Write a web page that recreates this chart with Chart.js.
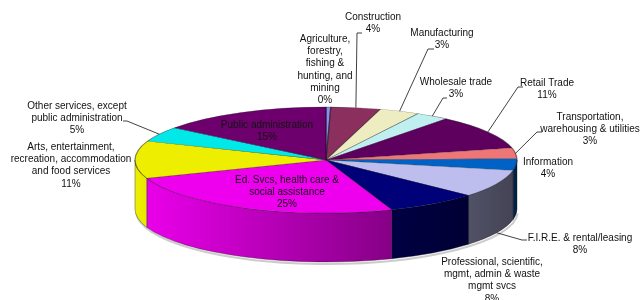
<!DOCTYPE html>
<html>
<head>
<meta charset="utf-8">
<script src="https://cdn.jsdelivr.net/npm/chart.js@4.4.1/dist/chart.umd.min.js"></script>
<style>
  html, body { margin: 0; padding: 0; background: #fff; }
  #wrap { width: 642px; height: 300px; }
</style>
</head>
<body>
<div id="wrap"><canvas id="pieChart" width="642" height="300"></canvas></div>
<script>
// Industry shares (%), clockwise from 12 o'clock
const categories = [
  ['Agriculture,', 'forestry,', 'fishing &', 'hunting, and', 'mining'],
  ['Construction'],
  ['Manufacturing'],
  ['Wholesale trade'],
  ['Retail Trade'],
  ['Transportation,', 'warehousing & utilities'],
  ['Information'],
  ['F.I.R.E. & rental/leasing'],
  ['Professional, scientific,', 'mgmt, admin & waste', 'mgmt svcs'],
  ['Ed. Svcs, health care &', 'social assistance'],
  ['Arts, entertainment,', 'recreation, accommodation', 'and food services'],
  ['Other services, except', 'public administration'],
  ['Public administration']
];
const shares = [0.4, 4.2, 3.4, 2.8, 10.6, 3.2, 3.6, 8.4, 7.8, 25.0, 11.4, 4.6, 14.6];
const sliceColors = ['#8C8CEC', '#8B2F5E', '#EEEDC2', '#BFEFEF', '#5E005E', '#EE7676', '#0062C4',
                     '#BDBDEE', '#000078', '#EE00EE', '#EEEE00', '#00E8E8', '#6E006E'];

// 3D look of the pie
const PIE = { cx: 326, cy: 160, rx: 191, ry: 53, depth: 49 };

// where each text label sits (center of first line) and its leader line, if any
const labelLayout = [
  { x: 325, y: 39 },
  { x: 373, y: 17, elbow: [357, 33], end: [362, 33], rim: 'top' },
  { x: 442, y: 33, elbow: [428, 49], end: [434, 49], rim: 'top' },
  { x: 456, y: 82, elbow: [443, 98], end: [447, 98], rim: 'top' },
  { x: 547, y: 83, elbow: [518, 87], end: [523, 87], rim: 'top' },
  { x: 590, y: 117, elbow: [537, 132], end: [542, 132], rim: 'top' },
  { x: 548, y: 162 },
  { x: 580, y: 238, elbow: [522, 240], end: [527, 240], rim: 'bottom' },
  { x: 492, y: 262 },
  { x: 287, y: 180 },
  { x: 71, y: 147 },
  { x: 77, y: 106, elbow: [127, 121], end: [123, 121], rim: 'top' },
  { x: 267, y: 125 }
];

function shade(hex, f) {
  const n = parseInt(hex.slice(1), 16);
  const r = Math.round(((n >> 16) & 255) * f);
  const g = Math.round(((n >> 8) & 255) * f);
  const b = Math.round((n & 255) * f);
  return `rgb(${r},${g},${b})`;
}

const pie3d = {
  id: 'pie3d',
  beforeDatasetsDraw(chart) {
    const ctx = chart.ctx;
    const arcs = chart.getDatasetMeta(0).data;
    const { cx, cy, rx, ry, depth } = PIE;

    // faint shadow under the front edge
    ctx.save();
    ctx.beginPath();
    ctx.ellipse(cx + 1, cy + depth + 2, rx, ry, 0, 0.05, Math.PI - 0.05);
    ctx.lineWidth = 2;
    ctx.strokeStyle = 'rgba(0,0,0,0.2)';
    ctx.stroke();
    ctx.restore();

    // side walls for the front half
    arcs.forEach((arc, i) => {
      const a = Math.max(arc.startAngle, 0);
      const b = Math.min(arc.endAngle, Math.PI);
      if (b <= a) return;
      const grad = ctx.createLinearGradient(cx - rx, 0, cx + rx, 0);
      grad.addColorStop(0, shade(sliceColors[i], 1.0));
      grad.addColorStop(1, shade(sliceColors[i], 0.35));
      ctx.beginPath();
      ctx.ellipse(cx, cy, rx, ry, 0, a, b, false);
      ctx.ellipse(cx, cy + depth, rx, ry, 0, b, a, true);
      ctx.closePath();
      ctx.fillStyle = grad;
      ctx.fill();
      ctx.lineWidth = 0.6;
      ctx.strokeStyle = 'rgba(0,0,0,0.55)';
      ctx.stroke();
    });

    // squash the flat pie into the top ellipse
    const ref = arcs[0];
    ctx.save();
    ctx.translate(cx, cy);
    ctx.scale(rx / ref.outerRadius, ry / ref.outerRadius);
    ctx.translate(-ref.x, -ref.y);
  },
  afterDatasetsDraw(chart) {
    chart.ctx.restore();
  },
  afterDraw(chart) {
    const ctx = chart.ctx;
    const arcs = chart.getDatasetMeta(0).data;
    const total = shares.reduce((s, v) => s + v, 0);
    const { cx, cy, rx, ry, depth } = PIE;
    ctx.save();
    ctx.font = '10px "Liberation Sans", Arial, sans-serif';
    ctx.textAlign = 'center';
    ctx.textBaseline = 'middle';
    ctx.fillStyle = '#111';
    ctx.strokeStyle = '#111';
    ctx.lineWidth = 0.8;
    arcs.forEach((arc, i) => {
      const lay = labelLayout[i];
      const lines = categories[i].concat([Math.round(shares[i] / total * 100) + '%']);
      lines.forEach((t, k) => ctx.fillText(t, lay.x, lay.y + k * 12.3));
      if (lay.elbow) {
        const m = (arc.startAngle + arc.endAngle) / 2;
        const px = cx + rx * Math.cos(m);
        const py = cy + ry * Math.sin(m) + (lay.rim === 'bottom' ? depth : 0);
        ctx.beginPath();
        ctx.moveTo(px, py);
        ctx.lineTo(lay.elbow[0], lay.elbow[1]);
        ctx.lineTo(lay.end[0], lay.end[1]);
        ctx.stroke();
      }
    });
    ctx.restore();
  }
};

new Chart(document.getElementById('pieChart'), {
  type: 'pie',
  data: {
    labels: categories,
    datasets: [{
      data: shares,
      backgroundColor: sliceColors,
      borderColor: 'rgba(0,0,0,0.45)',
      borderWidth: 1,
      clip: false
    }]
  },
  options: {
    responsive: false,
    animation: false,
    events: [],
    layout: { padding: 0 },
    plugins: {
      legend: { display: false },
      tooltip: { enabled: false }
    }
  },
  plugins: [pie3d]
});
</script>
</body>
</html>
